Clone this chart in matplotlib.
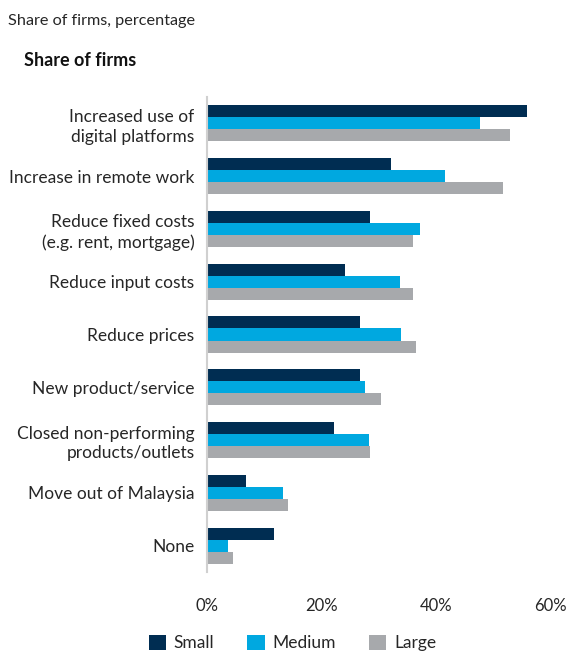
import matplotlib.pyplot as plt
import numpy as np
from matplotlib.patches import Patch

plt.rcParams['font.family'] = ['Lato', 'DejaVu Sans']

categories = [
    "Increased use of\ndigital platforms",
    "Increase in remote work",
    "Reduce fixed costs\n(e.g. rent, mortgage)",
    "Reduce input costs",
    "Reduce prices",
    "New product/service",
    "Closed non-performing\nproducts/outlets",
    "Move out of Malaysia",
    "None",
]
small = [56.0, 32.1, 28.6, 24.2, 26.8, 26.7, 22.3, 6.8, 11.8]
medium = [47.7, 41.6, 37.2, 33.7, 34.0, 27.7, 28.4, 13.3, 3.7]
large = [53.0, 51.8, 36.0, 36.0, 36.5, 30.5, 28.6, 14.2, 4.6]
series_names = ["Small", "Medium", "Large"]
colors = ["#002D52", "#00A8E0", "#A7A9AC"]
xticks = [0, 20, 40, 60]

text_color = "#262626"

fig = plt.figure(figsize=(5.69, 6.53), dpi=100)
ax = fig.add_axes([207 / 569, 1 - 572 / 653, (550 - 207) / 569, (572 - 97) / 653])

y = np.arange(len(categories))
h = 0.228
for i, (vals, name, c) in enumerate(zip([small, medium, large], series_names, colors)):
    ax.barh(y + (i - 1) * h, vals, height=h, color=c, label=name)

ax.set_ylim(len(categories) - 0.5, -0.5)
ax.set_xlim(0, 60)
ax.set_yticks(y)
ax.set_yticklabels(categories, fontsize=12.5, color=text_color, ha="right",
                   multialignment="right", linespacing=1.3)
ax.set_xticks(xticks)
ax.set_xticklabels([f"{t}%" for t in xticks], fontsize=12, color=text_color)
ax.tick_params(axis="both", length=0)
ax.tick_params(axis="x", pad=19)
ax.tick_params(axis="y", pad=9)

for side in ["top", "right", "bottom"]:
    ax.spines[side].set_visible(False)
ax.spines["left"].set_color("#D0D0D0")
ax.spines["left"].set_linewidth(1.5)

fig.text(8 / 569, 1 - 21 / 653, "Share of firms, percentage", fontsize=11.7,
         color=text_color, va="center", ha="left")
fig.text(24 / 569, 1 - 61 / 653, "Share of firms", fontsize=13, fontweight="bold",
         color="#111111", va="center", ha="left")

handles = [Patch(facecolor=c, label=n) for c, n in zip(colors, series_names)]
fig.legend(handles=handles, loc="center left", bbox_to_anchor=(133 / 569, 1 - 643 / 653),
           ncol=3, frameon=False, fontsize=12.5, handlelength=1.0, handleheight=1.0,
           columnspacing=1.9, handletextpad=0.45, labelcolor=text_color)

fig.savefig("out.png", dpi=100)
